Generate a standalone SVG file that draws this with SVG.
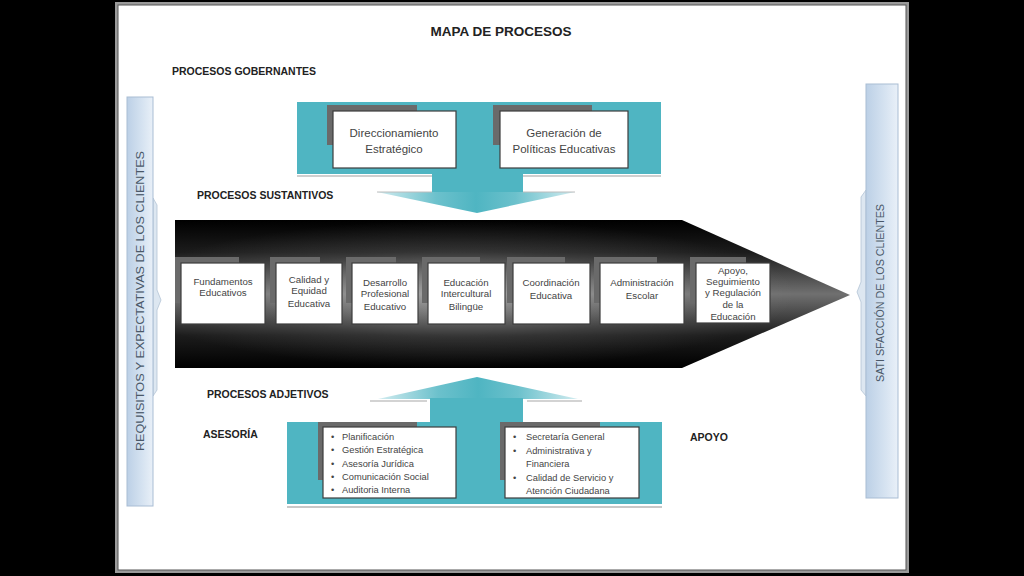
<svg xmlns="http://www.w3.org/2000/svg" width="1024" height="576" viewBox="0 0 1024 576">
<style>
.lbl{font-family:"Liberation Sans",Arial,sans-serif;font-weight:bold;font-size:10.5px;fill:#222}
.ttl{font-family:"Liberation Sans",Arial,sans-serif;font-weight:bold;font-size:13.5px;fill:#222}
.box{fill:#fff;stroke:#3c3c3c;stroke-width:1.2}
.tab{fill:#6a6a6a}
.bt{font-family:"Liberation Sans",Arial,sans-serif;font-size:11.5px;fill:#444;text-anchor:middle}
.st{font-family:"Liberation Sans",Arial,sans-serif;font-size:9.7px;fill:#444;text-anchor:middle}
.li{font-family:"Liberation Sans",Arial,sans-serif;font-size:9.3px;fill:#444}
.side{font-family:"Liberation Sans",Arial,sans-serif;font-size:10px;fill:#4a5868;text-anchor:middle}
.teal{fill:#4fb5c2}
</style>
<defs>
<linearGradient id="sideg" x1="0" y1="0" x2="1" y2="0">
<stop offset="0" stop-color="#bcd0e6"/><stop offset="0.6" stop-color="#d6e3f1"/><stop offset="1" stop-color="#e9f0f8"/>
</linearGradient>
<linearGradient id="blk" x1="0" y1="0" x2="0" y2="1">
<stop offset="0" stop-color="#000"/><stop offset="0.22" stop-color="#1c1c1c"/><stop offset="0.5" stop-color="#707070"/><stop offset="0.78" stop-color="#1c1c1c"/><stop offset="1" stop-color="#000"/>
</linearGradient>
<radialGradient id="glow" cx="0.42" cy="0.5" r="0.5">
<stop offset="0" stop-color="#fff" stop-opacity="0.38"/><stop offset="0.6" stop-color="#fff" stop-opacity="0.1"/><stop offset="1" stop-color="#fff" stop-opacity="0"/>
</radialGradient>
<linearGradient id="headg" x1="0" y1="0" x2="1" y2="0">
<stop offset="0" stop-color="#d2ecf0"/><stop offset="0.3" stop-color="#6cc1cc"/><stop offset="0.5" stop-color="#4fb5c2"/><stop offset="0.7" stop-color="#6cc1cc"/><stop offset="1" stop-color="#d2ecf0"/>
</linearGradient>
</defs>
<rect x="0" y="0" width="1024" height="576" fill="#000"/>
<rect x="115" y="2" width="794" height="571" fill="#9a9a9a"/>
<rect x="118" y="5" width="788" height="565" fill="#fff" stroke="#555" stroke-width="1"/>

<text class="ttl" x="501" y="36" text-anchor="middle">MAPA DE PROCESOS</text>
<text class="lbl" x="172" y="75">PROCESOS GOBERNANTES</text>
<text class="lbl" x="197" y="199">PROCESOS  SUSTANTIVOS</text>
<text class="lbl" x="207" y="398">PROCESOS ADJETIVOS</text>
<text class="lbl" x="203" y="438">ASESORÍA</text>
<text class="lbl" x="690" y="441">APOYO</text>

<g id="left-bar">
<path d="M153,198 L157,205 L157,290 L161,300 L157,310 L157,390 L153,396 Z" fill="#dde7f1" stroke="#b4c4d6" stroke-width="0.8"/>
<rect x="127" y="97" width="26" height="409" fill="url(#sideg)" stroke="#a9bdd4" stroke-width="1"/>
<text class="side" transform="translate(144,301) rotate(-90)" textLength="300" lengthAdjust="spacingAndGlyphs">REQUISITOS Y EXPECTATIVAS DE LOS CLIENTES</text>
</g>

<g id="right-bar">
<path d="M866,190 L861,197 L861,282 L857,292 L861,302 L861,390 L866,396 Z" fill="#dde7f1" stroke="#b4c4d6" stroke-width="0.8"/>
<rect x="866" y="84" width="32" height="414" fill="url(#sideg)" stroke="#a9bdd4" stroke-width="1"/>
<text class="side" transform="translate(884,293) rotate(-90)" textLength="178" lengthAdjust="spacingAndGlyphs">SATI SFACCIÓN DE LOS CLIENTES</text>
</g>

<g id="connectors">
<g id="top-arrow">
<line x1="297" y1="176" x2="432" y2="176" stroke="#cfcfcf" stroke-width="2"/>
<line x1="523" y1="176" x2="661" y2="176" stroke="#cfcfcf" stroke-width="2"/>
<path class="teal" d="M297,102 H661 V174 H523 V192 H432 V174 H297 Z"/>
<path d="M377,192 H575 L477,213 Z" fill="url(#headg)"/>
<line x1="377" y1="192" x2="432" y2="192" stroke="#bcbcbc" stroke-width="1"/>
<line x1="523" y1="192" x2="575" y2="192" stroke="#bcbcbc" stroke-width="1"/>
</g>
<g id="bottom-arrow">
<path d="M378,399 L477,377 L578,399 Z" fill="url(#headg)"/>
<line x1="370" y1="401" x2="427" y2="401" stroke="#c4c4c4" stroke-width="1.5"/>
<line x1="527" y1="401" x2="582" y2="401" stroke="#c4c4c4" stroke-width="1.5"/>
<path class="teal" d="M430,398 H523 V422 H662 V504 H287 V422 H430 Z"/>
<line x1="287" y1="507" x2="662" y2="507" stroke="#c8c8c8" stroke-width="2"/>
</g>
<g id="main-arrow">
<path d="M175,220 H682 L850,295 L682,368 H175 Z" fill="url(#blk)"/>
<path d="M175,220 H682 L850,295 L682,368 H175 Z" fill="url(#glow)"/>
</g>
</g>

<g id="n-direccionamiento">
<rect class="tab" x="327" y="105" width="90" height="40"/>
<rect class="box" x="333" y="111" width="123" height="57"/>
<text class="bt" x="394" y="137">Direccionamiento</text>
<text class="bt" x="394" y="153">Estratégico</text>
</g>
<g id="n-generacion">
<rect class="tab" x="493" y="105" width="99" height="40"/>
<rect class="box" x="500" y="111" width="128" height="57"/>
<text class="bt" x="564" y="137">Generación de</text>
<text class="bt" x="564" y="153">Políticas Educativas</text>
</g>

<g id="n-fundamentos">
<rect class="tab" x="175" y="257" width="64" height="46"/>
<rect class="box" x="181" y="263" width="84" height="61"/>
<text class="st" x="223" y="285">Fundamentos</text>
<text class="st" x="223" y="296">Educativos</text>
</g>
<g id="n-calidad">
<rect class="tab" x="270" y="257" width="50" height="46"/>
<rect class="box" x="276" y="263" width="66" height="61"/>
<text class="st" x="309" y="283">Calidad y</text>
<text class="st" x="309" y="294">Equidad</text>
<text class="st" x="309" y="307">Educativa</text>
</g>
<g id="n-desarrollo">
<rect class="tab" x="346" y="257" width="50" height="46"/>
<rect class="box" x="352" y="263" width="66" height="61"/>
<text class="st" x="385" y="286">Desarrollo</text>
<text class="st" x="385" y="297">Profesional</text>
<text class="st" x="385" y="310">Educativo</text>
</g>
<g id="n-educacion">
<rect class="tab" x="422" y="257" width="58" height="46"/>
<rect class="box" x="428" y="263" width="77" height="61"/>
<text class="st" x="466" y="286">Educación</text>
<text class="st" x="466" y="297">Intercultural</text>
<text class="st" x="466" y="310">Bilingüe</text>
</g>
<g id="n-coordinacion">
<rect class="tab" x="507" y="257" width="58" height="46"/>
<rect class="box" x="513" y="263" width="77" height="61"/>
<text class="st" x="551" y="286">Coordinación</text>
<text class="st" x="551" y="299">Educativa</text>
</g>
<g id="n-administracion">
<rect class="tab" x="594" y="257" width="63" height="46"/>
<rect class="box" x="600" y="263" width="84" height="61"/>
<text class="st" x="642" y="286">Administración</text>
<text class="st" x="642" y="299">Escolar</text>
</g>
<g id="n-apoyo">
<rect class="tab" x="690" y="257" width="56" height="46"/>
<rect class="box" x="696" y="263" width="74" height="60"/>
<text class="st" x="733" y="274">Apoyo,</text>
<text class="st" x="733" y="285">Seguimiento</text>
<text class="st" x="733" y="296">y Regulación</text>
<text class="st" x="733" y="308">de la</text>
<text class="st" x="733" y="320">Educación</text>
</g>

<g id="n-asesoria">
<rect class="tab" x="318" y="422" width="99" height="58"/>
<rect class="box" x="323" y="427" width="133" height="71"/>
<text class="li" x="331" y="440">•</text><text class="li" x="342" y="440">Planificación</text>
<text class="li" x="331" y="453">•</text><text class="li" x="342" y="453">Gestión Estratégica</text>
<text class="li" x="331" y="467">•</text><text class="li" x="342" y="467">Asesoría Jurídica</text>
<text class="li" x="331" y="480">•</text><text class="li" x="342" y="480">Comunicación Social</text>
<text class="li" x="331" y="493">•</text><text class="li" x="342" y="493">Auditoria Interna</text>
</g>
<g id="n-apoyo-adj">
<rect class="tab" x="500" y="422" width="100" height="58"/>
<rect class="box" x="505" y="427" width="134" height="71"/>
<text class="li" x="513" y="440">•</text><text class="li" x="526" y="440">Secretaría General</text>
<text class="li" x="513" y="454">•</text><text class="li" x="526" y="454">Administrativa y</text>
<text class="li" x="526" y="467">Financiera</text>
<text class="li" x="513" y="481">•</text><text class="li" x="526" y="481">Calidad de Servicio y</text>
<text class="li" x="526" y="494">Atención Ciudadana</text>
</g>
</svg>
